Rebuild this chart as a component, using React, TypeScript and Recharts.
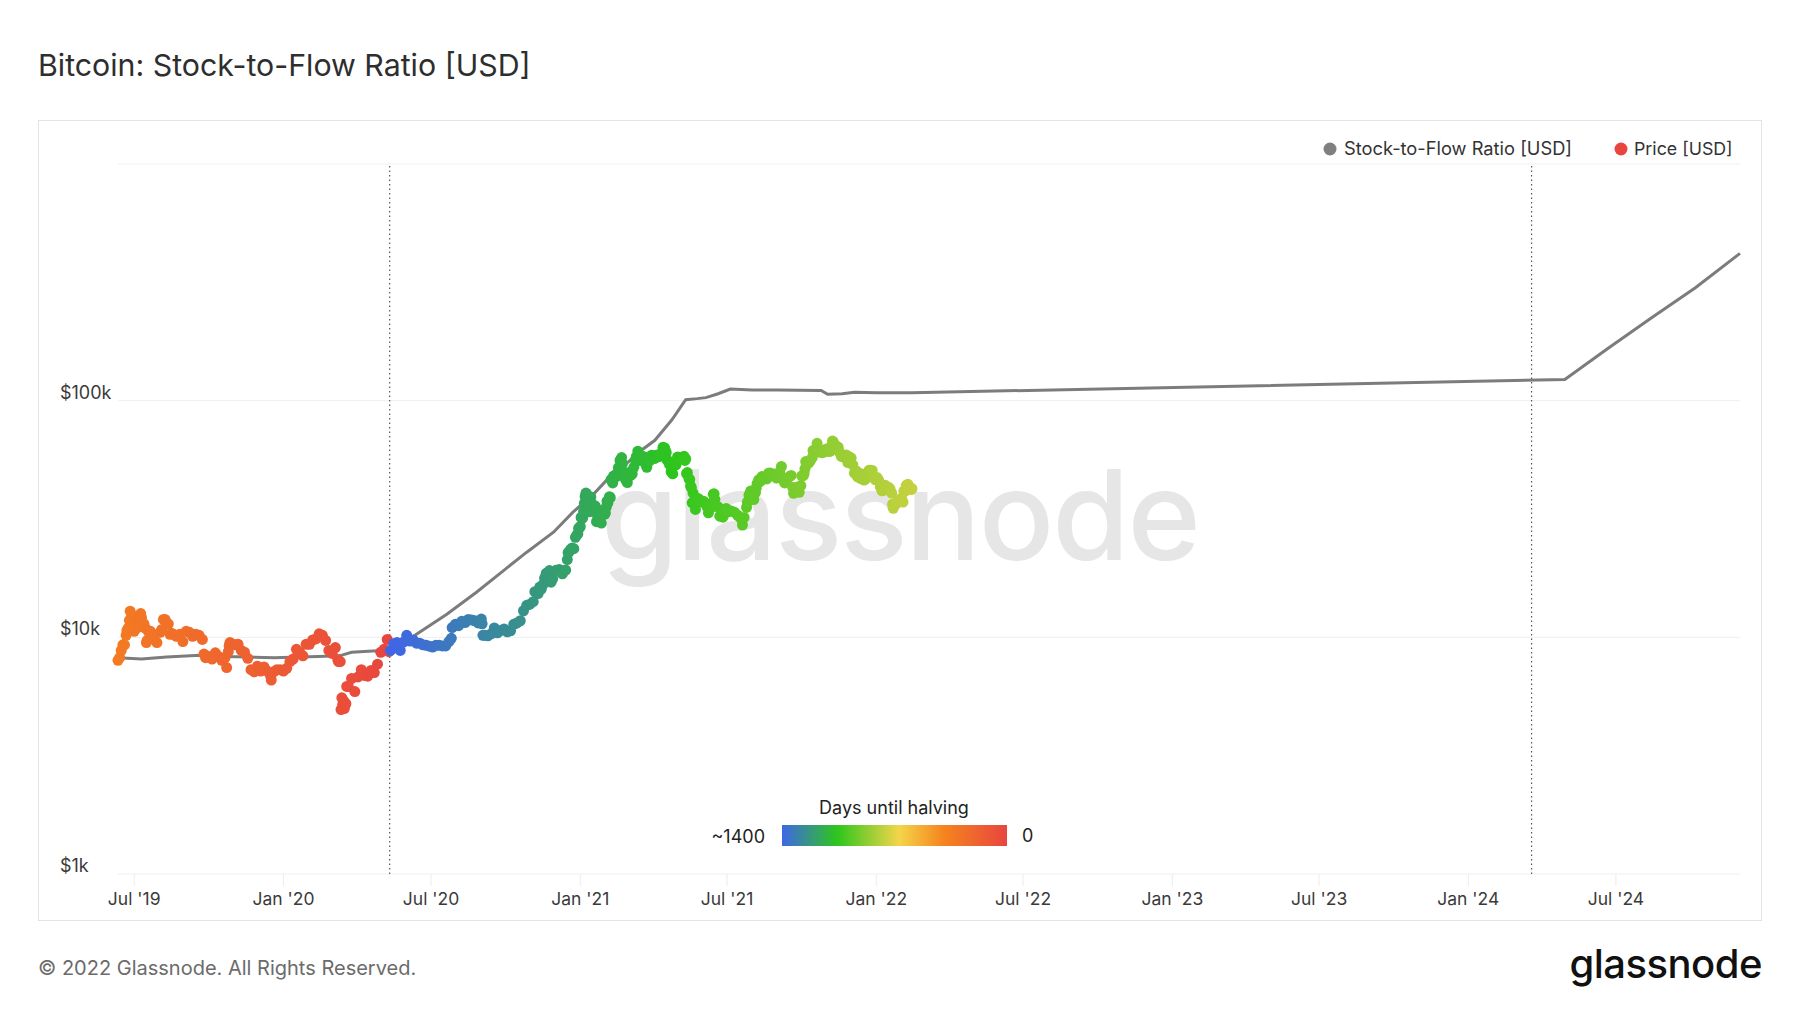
import React from "react";
import { ComposedChart, Scatter, Line, XAxis, YAxis, CartesianGrid, ReferenceLine } from "recharts";

const FONT = "Inter, 'Noto Sans', 'DejaVu Sans', sans-serif";

const chartTitle = "Bitcoin: Stock-to-Flow Ratio [USD]";
const legendLabels = ["Stock-to-Flow Ratio [USD]", "Price [USD]"];
const footerText = "© 2022 Glassnode. All Rights Reserved.";
const brandText = "glassnode";
const xTickDates = ["2019-07-01", "2020-01-01", "2020-07-01", "2021-01-01", "2021-07-01", "2022-01-01", "2022-07-01", "2023-01-01", "2023-07-01", "2024-01-01", "2024-07-01"];
const xTickLabels = ["Jul '19", "Jan '20", "Jul '20", "Jan '21", "Jul '21", "Jan '22", "Jul '22", "Jan '23", "Jul '23", "Jan '24", "Jul '24"];
const yTickValues = [1000, 10000, 100000, 1000000];
const yTickLabels = ["$1k", "$10k", "$100k", ""];
const halvingDates = ["2020-05-11", "2024-03-19"];
const colorScaleMaxDays = 1400;
const colorScaleLabels = ["Days until halving", "~1400", "0"];
const colorStops: [number, string][] = [
  [0, "#4066e6"],
  [0.245, "#2dc61c"],
  [0.52, "#f4d54a"],
  [0.72, "#f5841e"],
  [1, "#e8453f"],
];

// Stock-to-Flow model price [USD]
const s2fSeries: [string, number][] = [
  ["2019-06-11", 8200], ["2019-07-10", 8100], ["2019-08-10", 8250], ["2019-09-20", 8400],
  ["2019-10-20", 8300], ["2019-11-20", 8250], ["2019-12-21", 8200], ["2020-01-20", 8250],
  ["2020-02-13", 8300], ["2020-03-10", 8350], ["2020-03-25", 8650], ["2020-04-20", 8750],
  ["2020-05-11", 8800], ["2020-05-25", 9300], ["2020-06-13", 10300], ["2020-07-20", 12500],
  ["2020-08-26", 15500], ["2020-09-28", 19100], ["2020-10-27", 22900], ["2020-11-29", 27800],
  ["2020-12-23", 33800], ["2021-01-18", 40500], ["2021-02-12", 50000], ["2021-03-01", 55000],
  ["2021-03-17", 61600], ["2021-04-03", 68000], ["2021-04-24", 83000], ["2021-05-11", 101000],
  ["2021-05-25", 102000], ["2021-06-05", 103000], ["2021-06-20", 107000], ["2021-07-05", 112000],
  ["2021-08-01", 111000], ["2021-09-01", 111000], ["2021-10-25", 110500], ["2021-11-02", 106500],
  ["2021-11-20", 107000], ["2021-12-05", 108500], ["2022-01-01", 108000], ["2022-02-14", 108000],
  ["2024-04-29", 123000], ["2024-06-21", 166000], ["2024-08-14", 224000], ["2024-10-07", 300000],
  ["2024-12-01", 419000],
];

// Price [USD]
const priceSeries: [string, number][] = [
  ["2019-06-11", 8000], ["2019-06-13", 8200], ["2019-06-15", 8800], ["2019-06-17", 9300],
  ["2019-06-19", 9300], ["2019-06-21", 10200], ["2019-06-22", 10700], ["2019-06-23", 10800],
  ["2019-06-24", 11000], ["2019-06-25", 11800], ["2019-06-26", 12900], ["2019-06-27", 11200],
  ["2019-06-28", 12400], ["2019-06-29", 12000], ["2019-06-30", 10800], ["2019-07-01", 10600],
  ["2019-07-03", 11900], ["2019-07-05", 11000], ["2019-07-07", 11500], ["2019-07-08", 12300],
  ["2019-07-09", 12600], ["2019-07-10", 12100], ["2019-07-11", 11300], ["2019-07-13", 11400],
  ["2019-07-15", 10900], ["2019-07-16", 9500], ["2019-07-17", 9700], ["2019-07-19", 10500],
  ["2019-07-21", 10600], ["2019-07-25", 9900], ["2019-07-29", 9500], ["2019-08-02", 10500],
  ["2019-08-04", 10800], ["2019-08-06", 11900], ["2019-08-08", 11900], ["2019-08-10", 11500],
  ["2019-08-12", 11400], ["2019-08-14", 10300], ["2019-08-16", 10400], ["2019-08-18", 10300],
  ["2019-08-22", 10100], ["2019-08-26", 10300], ["2019-08-30", 9600], ["2019-09-03", 10600],
  ["2019-09-07", 10500], ["2019-09-11", 10100], ["2019-09-15", 10300], ["2019-09-19", 10200],
  ["2019-09-23", 9800], ["2019-09-25", 8500], ["2019-09-27", 8200], ["2019-10-01", 8300],
  ["2019-10-05", 8100], ["2019-10-09", 8600], ["2019-10-13", 8300], ["2019-10-17", 8000],
  ["2019-10-21", 8200], ["2019-10-23", 7450], ["2019-10-25", 8700], ["2019-10-26", 9200],
  ["2019-10-27", 9500], ["2019-10-29", 9400], ["2019-11-02", 9300], ["2019-11-06", 9350],
  ["2019-11-10", 8800], ["2019-11-14", 8650], ["2019-11-18", 8150], ["2019-11-22", 7300],
  ["2019-11-26", 7150], ["2019-11-30", 7550], ["2019-12-04", 7200], ["2019-12-08", 7500],
  ["2019-12-12", 7200], ["2019-12-16", 6900], ["2019-12-17", 6600], ["2019-12-20", 7150],
  ["2019-12-24", 7300], ["2019-12-28", 7300], ["2020-01-01", 7200], ["2020-01-05", 7400],
  ["2020-01-09", 7900], ["2020-01-13", 8100], ["2020-01-17", 8900], ["2020-01-21", 8650],
  ["2020-01-25", 8350], ["2020-01-29", 9350], ["2020-02-02", 9350], ["2020-02-06", 9750],
  ["2020-02-10", 9850], ["2020-02-14", 10350], ["2020-02-18", 10200], ["2020-02-22", 9700],
  ["2020-02-26", 8800], ["2020-03-01", 8550], ["2020-03-05", 9050], ["2020-03-08", 8050],
  ["2020-03-09", 7900], ["2020-03-11", 7900], ["2020-03-12", 4950], ["2020-03-13", 5550],
  ["2020-03-14", 5200], ["2020-03-15", 5400], ["2020-03-16", 5000], ["2020-03-17", 5200],
  ["2020-03-18", 5250], ["2020-03-19", 6200], ["2020-03-21", 6200], ["2020-03-25", 6700],
  ["2020-03-29", 5900], ["2020-04-02", 6800], ["2020-04-06", 7300], ["2020-04-10", 6900],
  ["2020-04-14", 6850], ["2020-04-18", 7250], ["2020-04-22", 7100], ["2020-04-26", 7700],
  ["2020-04-30", 8650], ["2020-05-04", 8900], ["2020-05-08", 9800], ["2020-05-10", 8700],
  ["2020-05-12", 8800], ["2020-05-16", 9400], ["2020-05-20", 9500], ["2020-05-24", 8800],
  ["2020-05-28", 9550], ["2020-06-01", 10200], ["2020-06-05", 9650], ["2020-06-09", 9750],
  ["2020-06-13", 9450], ["2020-06-17", 9450], ["2020-06-21", 9300], ["2020-06-25", 9250],
  ["2020-06-29", 9180], ["2020-07-03", 9100], ["2020-07-07", 9250], ["2020-07-11", 9250],
  ["2020-07-15", 9200], ["2020-07-19", 9200], ["2020-07-23", 9600], ["2020-07-26", 9900],
  ["2020-07-27", 11000], ["2020-07-31", 11350], ["2020-08-04", 11200], ["2020-08-08", 11700],
  ["2020-08-12", 11550], ["2020-08-16", 11900], ["2020-08-20", 11850], ["2020-08-24", 11750],
  ["2020-08-28", 11500], ["2020-09-01", 11950], ["2020-09-02", 11400], ["2020-09-03", 10200],
  ["2020-09-05", 10200], ["2020-09-09", 10150], ["2020-09-13", 10350], ["2020-09-17", 10950],
  ["2020-09-21", 10450], ["2020-09-25", 10700], ["2020-09-29", 10850], ["2020-10-03", 10550],
  ["2020-10-07", 10650], ["2020-10-11", 11350], ["2020-10-15", 11500], ["2020-10-19", 11750],
  ["2020-10-23", 12950], ["2020-10-27", 13650], ["2020-10-31", 13800], ["2020-11-04", 14150],
  ["2020-11-06", 15600], ["2020-11-08", 15500], ["2020-11-10", 15300], ["2020-11-12", 16300],
  ["2020-11-14", 16000], ["2020-11-16", 16700], ["2020-11-18", 17800], ["2020-11-20", 18650],
  ["2020-11-22", 18400], ["2020-11-24", 19150], ["2020-11-26", 17100], ["2020-11-28", 17700],
  ["2020-12-02", 19200], ["2020-12-06", 19350], ["2020-12-10", 18550], ["2020-12-14", 19250],
  ["2020-12-16", 21300], ["2020-12-17", 22800], ["2020-12-18", 22900], ["2020-12-20", 23500],
  ["2020-12-22", 23850], ["2020-12-24", 23700], ["2020-12-26", 26450], ["2020-12-28", 27100],
  ["2020-12-29", 27400], ["2020-12-30", 28900], ["2020-12-31", 29000], ["2021-01-01", 29400],
  ["2021-01-02", 32100], ["2021-01-03", 32200], ["2021-01-04", 31900], ["2021-01-05", 34000],
  ["2021-01-06", 36800], ["2021-01-07", 39400], ["2021-01-08", 40700], ["2021-01-09", 40200],
  ["2021-01-10", 38300], ["2021-01-11", 35500], ["2021-01-12", 33900], ["2021-01-13", 37300],
  ["2021-01-14", 39200], ["2021-01-15", 36800], ["2021-01-16", 36100], ["2021-01-17", 35800],
  ["2021-01-19", 36000], ["2021-01-20", 35500], ["2021-01-21", 30800], ["2021-01-22", 33000],
  ["2021-01-23", 32100], ["2021-01-25", 32300], ["2021-01-27", 30400], ["2021-01-29", 34300],
  ["2021-01-31", 33100], ["2021-02-01", 33500], ["2021-02-02", 35500], ["2021-02-03", 37600],
  ["2021-02-04", 36900], ["2021-02-06", 39300], ["2021-02-07", 38900], ["2021-02-08", 46400],
  ["2021-02-09", 46500], ["2021-02-10", 44900], ["2021-02-11", 48000], ["2021-02-12", 47900],
  ["2021-02-14", 48700], ["2021-02-15", 47900], ["2021-02-16", 49200], ["2021-02-17", 52100],
  ["2021-02-18", 51600], ["2021-02-19", 55900], ["2021-02-20", 55900], ["2021-02-21", 57500],
  ["2021-02-22", 54100], ["2021-02-23", 48900], ["2021-02-24", 49700], ["2021-02-26", 46300],
  ["2021-02-28", 45100], ["2021-03-01", 49600], ["2021-03-02", 48400], ["2021-03-04", 48400],
  ["2021-03-06", 49000], ["2021-03-08", 52300], ["2021-03-10", 56000], ["2021-03-11", 57800],
  ["2021-03-12", 57200], ["2021-03-13", 61200], ["2021-03-14", 59300], ["2021-03-15", 55900],
  ["2021-03-16", 56400], ["2021-03-18", 57700], ["2021-03-20", 58100], ["2021-03-22", 54500],
  ["2021-03-23", 54400], ["2021-03-24", 52300], ["2021-03-26", 55100], ["2021-03-28", 55900],
  ["2021-03-30", 58800], ["2021-04-01", 58700], ["2021-04-03", 57000], ["2021-04-05", 58800],
  ["2021-04-09", 58100], ["2021-04-11", 60200], ["2021-04-13", 63500], ["2021-04-14", 63100],
  ["2021-04-15", 63100], ["2021-04-16", 61300], ["2021-04-17", 60400], ["2021-04-18", 56200],
  ["2021-04-19", 55700], ["2021-04-21", 53800], ["2021-04-23", 50100], ["2021-04-25", 49100],
  ["2021-04-27", 55000], ["2021-04-29", 53600], ["2021-05-01", 57800], ["2021-05-03", 56600],
  ["2021-05-05", 57400], ["2021-05-07", 57400], ["2021-05-09", 58200], ["2021-05-10", 55900],
  ["2021-05-11", 56700], ["2021-05-12", 49200], ["2021-05-13", 49700], ["2021-05-15", 46800],
  ["2021-05-16", 46400], ["2021-05-17", 43600], ["2021-05-18", 42900], ["2021-05-19", 37000],
  ["2021-05-20", 40700], ["2021-05-21", 37300], ["2021-05-22", 37500], ["2021-05-23", 34700],
  ["2021-05-24", 38800], ["2021-05-27", 38500], ["2021-05-31", 37300], ["2021-06-02", 37600],
  ["2021-06-04", 36900], ["2021-06-06", 35800], ["2021-06-08", 33600], ["2021-06-10", 36700],
  ["2021-06-12", 35500], ["2021-06-14", 40200], ["2021-06-15", 40400], ["2021-06-16", 38300],
  ["2021-06-18", 35800], ["2021-06-20", 35600], ["2021-06-22", 32500], ["2021-06-24", 34700],
  ["2021-06-26", 32200], ["2021-06-28", 34500], ["2021-06-30", 35000], ["2021-07-02", 33900],
  ["2021-07-06", 34200], ["2021-07-10", 33800], ["2021-07-14", 32800], ["2021-07-18", 31800],
  ["2021-07-20", 29800], ["2021-07-22", 32100], ["2021-07-25", 35400], ["2021-07-26", 37300],
  ["2021-07-28", 39900], ["2021-07-30", 41500], ["2021-08-01", 39900], ["2021-08-03", 38200],
  ["2021-08-05", 40900], ["2021-08-06", 42800], ["2021-08-07", 44600], ["2021-08-09", 46300],
  ["2021-08-11", 45600], ["2021-08-13", 47800], ["2021-08-15", 47100], ["2021-08-19", 46700],
  ["2021-08-21", 49300], ["2021-08-23", 49500], ["2021-08-25", 48900], ["2021-08-27", 49000],
  ["2021-08-31", 47100], ["2021-09-02", 49300], ["2021-09-04", 49900], ["2021-09-06", 52700],
  ["2021-09-07", 46800], ["2021-09-10", 44900], ["2021-09-12", 46000], ["2021-09-14", 47100],
  ["2021-09-16", 47800], ["2021-09-18", 48300], ["2021-09-20", 43000], ["2021-09-21", 40600],
  ["2021-09-24", 42800], ["2021-09-26", 43200], ["2021-09-28", 41000], ["2021-09-30", 43800],
  ["2021-10-01", 48100], ["2021-10-03", 48200], ["2021-10-04", 49200], ["2021-10-05", 51500],
  ["2021-10-06", 55300], ["2021-10-08", 53900], ["2021-10-10", 54700], ["2021-10-12", 56000],
  ["2021-10-14", 57400], ["2021-10-15", 61600], ["2021-10-16", 60900], ["2021-10-18", 62000],
  ["2021-10-20", 66000], ["2021-10-22", 60700], ["2021-10-24", 61300], ["2021-10-26", 60300],
  ["2021-10-28", 60600], ["2021-10-30", 62200], ["2021-11-01", 61000], ["2021-11-03", 63000],
  ["2021-11-05", 61000], ["2021-11-07", 63300], ["2021-11-08", 67500], ["2021-11-09", 66900],
  ["2021-11-11", 64900], ["2021-11-13", 64200], ["2021-11-15", 63600], ["2021-11-17", 60400],
  ["2021-11-19", 58100], ["2021-11-21", 58700], ["2021-11-23", 57500], ["2021-11-25", 59000],
  ["2021-11-27", 54800], ["2021-11-29", 57800], ["2021-12-01", 57200], ["2021-12-03", 53600],
  ["2021-12-05", 49400], ["2021-12-07", 50600], ["2021-12-09", 47600], ["2021-12-11", 49400],
  ["2021-12-13", 46800], ["2021-12-15", 48900], ["2021-12-17", 46200], ["2021-12-19", 46700],
  ["2021-12-21", 49000], ["2021-12-23", 50800], ["2021-12-25", 50800], ["2021-12-27", 50700],
  ["2021-12-29", 47500], ["2021-12-31", 46300], ["2022-01-02", 47300], ["2022-01-04", 46000],
  ["2022-01-06", 43100], ["2022-01-08", 41600], ["2022-01-10", 41800], ["2022-01-12", 43900],
  ["2022-01-14", 43100], ["2022-01-16", 43100], ["2022-01-18", 42300], ["2022-01-20", 40700],
  ["2022-01-21", 36500], ["2022-01-22", 35100], ["2022-01-24", 36700], ["2022-01-26", 36800],
  ["2022-01-28", 37700], ["2022-01-30", 38200], ["2022-02-01", 38700], ["2022-02-03", 37300],
  ["2022-02-04", 41500], ["2022-02-05", 41400], ["2022-02-07", 43900], ["2022-02-09", 44300],
  ["2022-02-11", 42400], ["2022-02-13", 42100], ["2022-02-14", 42500],
];

const toT = (s: string) => Date.parse(s + "T00:00:00Z");
const DAY = 86400000;
const halvingTimes = halvingDates.map(toT);

function hexToRgb(h: string) {
  const n = parseInt(h.slice(1), 16);
  return [(n >> 16) & 255, (n >> 8) & 255, n & 255];
}
function gradientColor(f: number) {
  const x = Math.max(0, Math.min(1, f));
  for (let i = 0; i < colorStops.length - 1; i++) {
    const [a, ca] = colorStops[i];
    const [b, cb] = colorStops[i + 1];
    if (x >= a && x <= b) {
      const k = (x - a) / (b - a);
      const A = hexToRgb(ca), B = hexToRgb(cb);
      const c = A.map((v, j) => Math.round(v + (B[j] - v) * k));
      return `rgb(${c[0]},${c[1]},${c[2]})`;
    }
  }
  return colorStops[colorStops.length - 1][1];
}
function colorForTime(t: number) {
  const next = halvingTimes.find((h) => h > t) ?? halvingTimes[halvingTimes.length - 1];
  const days = (next - t) / DAY;
  return gradientColor(1 - days / colorScaleMaxDays);
}

const priceData = priceSeries.map(([d, v]) => ({ t: toT(d), v, color: colorForTime(toT(d)) }));
const s2fData = s2fSeries.map(([d, v]) => ({ t: toT(d), v }));
const xTickTimes = xTickDates.map(toT);
const xDomain = [
  Math.min(priceData[0].t, s2fData[0].t),
  Math.max(priceData[priceData.length - 1].t, s2fData[s2fData.length - 1].t),
];

function XTick(props: any) {
  const { x, y, payload } = props;
  const i = xTickTimes.indexOf(payload.value);
  return (
    <g>
      <line x1={x} x2={x} y1={y} y2={y + 12} stroke="#ececec" />
      <text x={x} y={y + 31} textAnchor="middle" fontSize={17.5} fill="#3a3a3a" fontFamily={FONT}>
        {xTickLabels[i]}
      </text>
    </g>
  );
}

function YTick(props: any) {
  const { y, payload } = props;
  const i = yTickValues.indexOf(payload.value);
  return (
    <text x={60} y={y - 2} fontSize={18} fill="#3a3a3a" fontFamily={FONT}>
      {yTickLabels[i]}
    </text>
  );
}

function PriceDot(props: any) {
  const { cx, cy, payload } = props;
  if (cx == null || cy == null) return null;
  return <circle cx={cx} cy={cy} r={5.5} fill={payload.color} />;
}

export default function App() {
  return (
    <div style={{ position: "absolute", left: 0, top: 0, width: 1800, height: 1013, background: "#fff", overflow: "hidden" }}>
      <svg width={1800} height={1013} style={{ position: "absolute", left: 0, top: 0 }} fontFamily={FONT}>
        <defs>
          <linearGradient id="daysGrad" x1="0" x2="1" y1="0" y2="0">
            {colorStops.map(([o, c]) => (
              <stop key={o} offset={o} stopColor={c} />
            ))}
          </linearGradient>
        </defs>
        <text x={38} y={76} fontSize={30.3} fill="#2e2e2e">{chartTitle}</text>
        <rect x={38.5} y={120.5} width={1723} height={800} fill="none" stroke="#e3e3e3" />
        <text x={900} y={560} textAnchor="middle" fontSize={125} fontWeight={500} fill="#e6e6e6" letterSpacing={-2}>
          {brandText}
        </text>
        <circle cx={1330} cy={149} r={6.5} fill="#808080" />
        <text x={1344} y={155} fontSize={18.3} fill="#333">{legendLabels[0]}</text>
        <circle cx={1621} cy={149} r={6.5} fill="#e8453f" />
        <text x={1634} y={155} fontSize={17.8} fill="#333">{legendLabels[1]}</text>
        <text x={894} y={814} textAnchor="middle" fontSize={18} fill="#222">{colorScaleLabels[0]}</text>
        <text x={765} y={843} textAnchor="end" fontSize={18} fill="#222">{colorScaleLabels[1]}</text>
        <rect x={782} y={825} width={225} height={21} fill="url(#daysGrad)" />
        <text x={1022} y={842} fontSize={18} fill="#222">{colorScaleLabels[2]}</text>
        <text x={38} y={975} fontSize={20} fill="#6b6b6b">{footerText}</text>
        <text x={1762} y={978} textAnchor="end" fontSize={40} fontWeight={500} fill="#111" letterSpacing={-0.5}>
          {brandText}
        </text>
      </svg>
      <div style={{ position: "absolute", left: 0, top: 0 }}>
        <ComposedChart width={1800} height={1013} margin={{ top: 164, right: 60, bottom: 99, left: 117 }}>
          <CartesianGrid vertical={false} stroke="#efefef" />
          <XAxis
            type="number"
            dataKey="t"
            domain={xDomain}
            ticks={xTickTimes}
            interval={0}
            tick={<XTick />}
            tickSize={0}
            tickMargin={0}
            axisLine={false}
            tickLine={false}
            height={40}
          />
          <YAxis
            type="number"
            dataKey="v"
            scale="log"
            domain={[1000, 1000000]}
            ticks={yTickValues}
            interval={0}
            tick={<YTick />}
            axisLine={false}
            tickLine={false}
            width={1}
          />
          {halvingTimes.map((h) => (
            <ReferenceLine key={h} x={h} stroke="#555" strokeDasharray="1.5 3" strokeWidth={1.2} />
          ))}
          <Scatter data={priceData} isAnimationActive={false} shape={<PriceDot />} />
          <Line
            data={s2fData}
            dataKey="v"
            type="linear"
            stroke="#7c7c7c"
            strokeWidth={3}
            dot={false}
            activeDot={false}
            isAnimationActive={false}
          />
        </ComposedChart>
      </div>
    </div>
  );
}
